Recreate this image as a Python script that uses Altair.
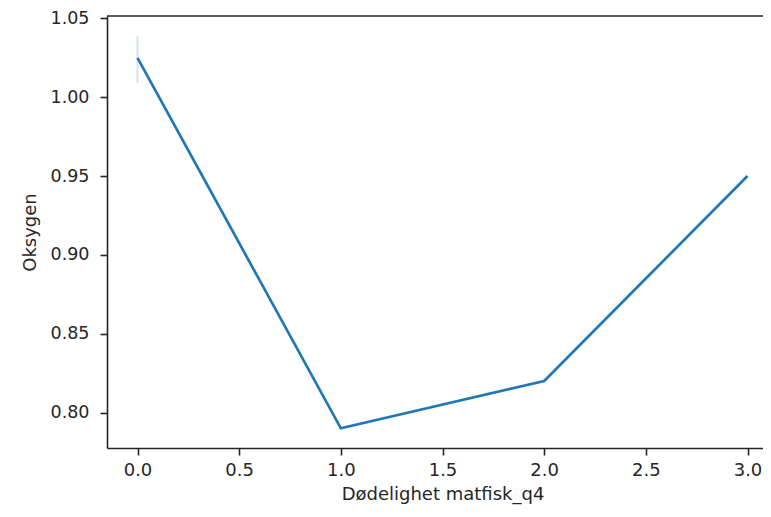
import altair as alt
import pandas as pd

x_vals = [0.0, 1.0, 2.0, 3.0]
y_vals = [1.025, 0.79, 0.82, 0.95]
band_x = [0.0]
band_lo = [1.009]
band_hi = [1.039]

df = pd.DataFrame({"x": x_vals, "y": y_vals})
band = pd.DataFrame({"x": band_x, "lo": band_lo, "hi": band_hi})

W, H = 656, 432
XR = 671  # plot area continues past the right edge (cropped like the reference)
xs = alt.Scale(domain=[-0.15, 3.15], range=[0, XR], nice=False, zero=False)
ys = alt.Scale(domain=[0.7775, 1.0515], nice=False, zero=False)

font = "DejaVu Sans"
FS = 18
common = dict(grid=False, domainColor="#262626", domainWidth=1.6,
              tickColor="#262626", tickSize=7, tickWidth=1.6,
              titleFontSize=FS, labelFont=font, titleFont=font,
              labelColor="#262626", titleColor="#262626", titleFontWeight="normal")
xaxis = alt.Axis(title="Dødelighet matfisk_q4", values=[0, 0.5, 1, 1.5, 2, 2.5, 3],
                 format=".1f", labelFontSize=FS, labelPadding=6, titlePadding=6, **common)
yaxis = alt.Axis(title="Oksygen", values=[0.80, 0.85, 0.90, 0.95, 1.00, 1.05],
                 format=".2f", labelFontSize=17.5, labelPadding=11, titlePadding=11, **common)

line = alt.Chart(df).mark_line(color="#1f77b4", strokeWidth=2.7).encode(
    x=alt.X("x:Q", scale=xs, axis=xaxis),
    y=alt.Y("y:Q", scale=ys, axis=yaxis),
)
ci = alt.Chart(band).mark_rule(color="#1f77b4", opacity=0.2, strokeWidth=2).encode(
    x=alt.X("x:Q", scale=xs),
    y=alt.Y("lo:Q", scale=ys),
    y2="hi:Q",
)
top = alt.Chart(band).mark_rule(color="#262626", strokeWidth=1.6).encode(
    x=alt.value(0), x2=alt.value(XR), y=alt.value(0)
)

chart = alt.layer(ci, line, top).properties(
    width=W, height=H,
    autosize=alt.AutoSizeParams(type="none"),
    padding={"left": 99, "top": 8, "right": 0, "bottom": 60},
).configure_view(stroke=None)

chart.save("out.html", embed_options={"renderer": "svg", "actions": False})
